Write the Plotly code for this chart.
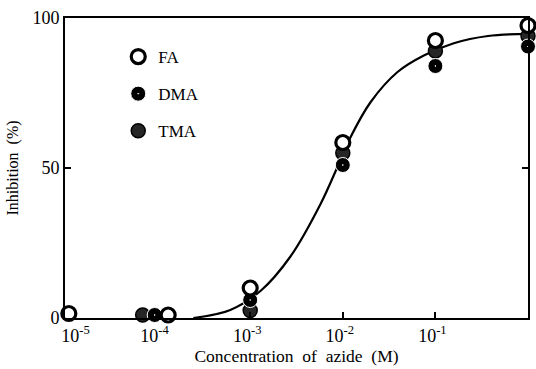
import plotly.graph_objects as go

# Azide concentration (M) and percent inhibition for each substrate
fa_conc = [1.1e-5, 1.3e-4, 1e-3, 1e-2, 1e-1, 1.0]
fa_inh = [1.5, 1.0, 10.0, 58.5, 92.5, 97.5]

dma_conc = [9.3e-5, 1e-3, 1e-2, 1e-1, 1.0]
dma_inh = [1.0, 6.0, 51.0, 84.0, 90.5]

tma_conc = [6.9e-5, 1e-3, 1e-2, 1e-1, 1.0]
tma_inh = [1.0, 2.5, 55.0, 89.0, 94.0]

# Fitted inhibition curve
curve_conc = [2.43e-4, 6.1e-4, 1.29e-3, 2.72e-3, 5.75e-3, 8.8e-3,
              1.2e-2, 2.0e-2, 3.9e-2, 7.5e-2, 0.158, 0.37, 1.0]
curve_inh = [0.0, 2.7, 9.0, 20.5, 38.0, 50.5,
             60.0, 72.0, 82.0, 87.5, 91.6, 94.0, 94.7]

x_tickvals = [1e-5, 1e-4, 1e-3, 1e-2, 1e-1, 1.0]
x_ticktext = ["&nbsp;&nbsp;&nbsp;&nbsp;&nbsp;&nbsp;10<sup>-5</sup>",
              "10<sup>-4</sup>", "10<sup>-3</sup>",
              "10<sup>-2</sup>", "10<sup>-1</sup>", "10<sup>0</sup>"]
y_tickvals = [0, 50, 100]

SERIF = "Liberation Serif, Times New Roman, serif"

fig = go.Figure()

fig.add_trace(go.Scatter(
    x=curve_conc, y=curve_inh, mode="lines",
    line=dict(color="black", width=2.2, shape="spline", smoothing=1.0),
    showlegend=False, hoverinfo="skip", cliponaxis=False,
))

fig.add_trace(go.Scatter(
    x=tma_conc, y=tma_inh, mode="markers", name="TMA", legendgroup="tma",
    legendrank=3,
    marker=dict(symbol="circle", size=14, color="#262626",
                line=dict(color="black", width=1.5)),
    cliponaxis=False,
))
fig.add_trace(go.Scatter(
    x=dma_conc, y=dma_inh, mode="markers", name="DMA", legendgroup="dma",
    legendrank=2,
    marker=dict(symbol="circle-dot", size=15, color="black",
                line=dict(color="white", width=1.0)),
    cliponaxis=False,
))
fig.add_trace(go.Scatter(
    x=fa_conc, y=fa_inh, mode="markers", name="FA", legendgroup="fa",
    legendrank=1,
    marker=dict(symbol="circle", size=14, color="white",
                line=dict(color="black", width=3.2)),
    cliponaxis=False,
))

fig.update_layout(
    width=536, height=369,
    margin=dict(l=65, r=8, t=18, b=51),
    paper_bgcolor="white", plot_bgcolor="white",
    font=dict(family=SERIF, color="black", size=17),
    legend=dict(
        x=0.115, y=0.93, xanchor="left", yanchor="top",
        traceorder="grouped", tracegroupgap=12,
        font=dict(family=SERIF, size=17),
        bgcolor="rgba(0,0,0,0)", itemwidth=30,
    ),
    xaxis=dict(
        type="log", range=[-5, 0],
        tickvals=x_tickvals, ticktext=x_ticktext,
        ticks="inside", ticklen=6, tickwidth=2, tickcolor="black",
        showline=True, linecolor="black", linewidth=2, mirror=True,
        showgrid=False, zeroline=False, automargin=False,
        tickfont=dict(size=18), ticklabelshift=-3,
        title=dict(text="Concentration  of  azide  (M)", standoff=3,
                   font=dict(size=17.5)),
    ),
    yaxis=dict(
        range=[0, 100], tickvals=y_tickvals,
        ticks="inside", ticklen=6, tickwidth=2, tickcolor="black",
        showline=True, linecolor="black", linewidth=2, mirror="ticks",
        showgrid=False, zeroline=False, automargin=False,
        tickfont=dict(size=18),
        title=dict(text="Inhibition  (%)", standoff=10,
                   font=dict(size=16)),
    ),
)

fig.write_html("out.html")
